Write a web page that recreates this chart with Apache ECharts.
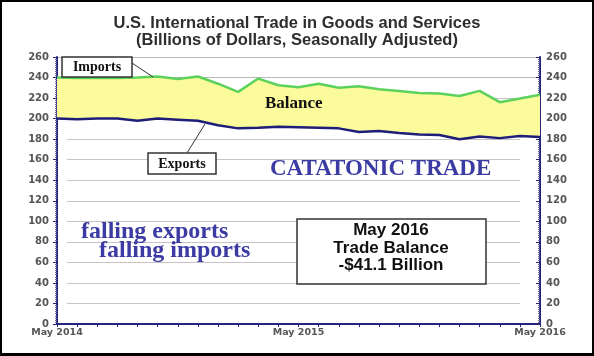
<!DOCTYPE html>
<html>
<head>
<meta charset="utf-8">
<script src="https://cdn.jsdelivr.net/npm/echarts@6/dist/echarts.min.js"></script>
<style>
html,body{margin:0;padding:0;background:#fff;}
#c{width:594px;height:356px;}
</style>
</head>
<body>
<div id="c"></div>
<script>
const months = ['May 2014','Jun 2014','Jul 2014','Aug 2014','Sep 2014','Oct 2014','Nov 2014','Dec 2014',
  'Jan 2015','Feb 2015','Mar 2015','Apr 2015','May 2015','Jun 2015','Jul 2015','Aug 2015','Sep 2015',
  'Oct 2015','Nov 2015','Dec 2015','Jan 2016','Feb 2016','Mar 2016','Apr 2016','May 2016'];
const imports = [240,239.5,239.5,239.5,240,241,238.5,241,234,226,239,232.5,230.5,234,230,231.5,228.5,227,225,224.5,222,227,216,219.5,223.3];
const exports = [200,199.5,200,200,198,200,199,198,193.5,190.5,191,192,191.5,191,190.5,187,188,186,184.5,184,180,182.5,181,183,182.2];
const yTicks = {min:0, max:260, interval:20};

const balance = imports.map((v,i)=>+(v-exports[i]).toFixed(2));
const chart = echarts.init(document.getElementById('c'), null, {renderer:'canvas'});

const labelStyle = {color:'#555', fontFamily:'DejaVu Sans', fontWeight:'bold', fontSize:10};
const axisNavy = '#24247a';
const nLines = (yTicks.max - yTicks.min)/yTicks.interval + 1;
const topLineColors = Array.from({length:nLines},(_,i)=> i>=nLines-2 ? '#b8b8b8' : 'rgba(0,0,0,0)');
const innerLineColors = Array.from({length:nLines},(_,i)=> (i===0 || i>=nLines-2) ? 'rgba(0,0,0,0)' : '#c4c4c4');

const option = {
  animation:false,
  backgroundColor:'#fff',
  title:{
    text:'U.S. International Trade in Goods and Services\n(Billions of Dollars, Seasonally Adjusted)',
    left:'center', top:10,
    textStyle:{fontFamily:'Liberation Sans', fontWeight:'bold', fontSize:16.5, color:'#2e2e2e', lineHeight:17}
  },
  grid:[
    {left:57, right:54, top:57, bottom:32},
    {left:67, right:74, top:57, bottom:32}
  ],
  xAxis:[
    {type:'category', gridIndex:0, data:months, boundaryGap:false,
     axisLine:{show:true, lineStyle:{color:axisNavy, width:2}},
     axisTick:{show:true, interval:0, length:3, lineStyle:{color:axisNavy, width:1}},
     axisLabel:Object.assign({interval:11, margin:4}, labelStyle, {fontSize:9.5}),
     splitLine:{show:false}},
    {type:'category', gridIndex:1, data:months, boundaryGap:false, show:false}
  ],
  yAxis:[
    {type:'value', gridIndex:0, position:'left', min:yTicks.min, max:yTicks.max, interval:yTicks.interval,
     axisLine:{show:true, lineStyle:{color:axisNavy, width:2}},
     axisTick:{show:true, length:4, lineStyle:{color:axisNavy}},
     minorTick:{show:true, splitNumber:10, length:2, lineStyle:{color:'#6a6aa0'}},
     axisLabel:Object.assign({margin:8}, labelStyle),
     splitLine:{show:true, lineStyle:{color:topLineColors, width:1}}},
    {type:'value', gridIndex:0, position:'right', min:yTicks.min, max:yTicks.max, interval:yTicks.interval,
     axisLine:{show:true, lineStyle:{color:axisNavy, width:2}},
     axisTick:{show:true, length:4, inside:true, lineStyle:{color:axisNavy}},
     minorTick:{show:true, splitNumber:10, length:2, lineStyle:{color:'#6a6aa0'}},
     axisLabel:Object.assign({margin:6}, labelStyle),
     splitLine:{show:false}},
    {type:'value', gridIndex:1, min:yTicks.min, max:yTicks.max, interval:yTicks.interval,
     axisLine:{show:false}, axisTick:{show:false}, axisLabel:{show:false},
     splitLine:{show:true, lineStyle:{color:innerLineColors, width:1}}}
  ],
  series:[
    {name:'base', type:'line', xAxisIndex:0, yAxisIndex:0, stack:'trade', data:exports,
     symbol:'none', lineStyle:{width:0, opacity:0}, silent:true, z:1},
    {name:'Balance', type:'line', xAxisIndex:0, yAxisIndex:0, stack:'trade', data:balance,
     symbol:'none', lineStyle:{width:0, opacity:0}, areaStyle:{color:'#fbfb9c', opacity:1}, silent:true, z:1},
    {name:'Imports', type:'line', xAxisIndex:0, yAxisIndex:0, data:imports, symbol:'none',
     lineStyle:{color:'#5cd25c', width:2.5}, z:3},
    {name:'Exports', type:'line', xAxisIndex:0, yAxisIndex:0, data:exports, symbol:'none',
     lineStyle:{color:'#1e1e78', width:2.5}, z:3}
  ],
  graphic:[
    {type:'rect', shape:{x:1, y:1, width:592, height:353}, style:{fill:'none', stroke:'#000', lineWidth:2}, z:100},
    {type:'line', shape:{x1:0, y1:355, x2:594, y2:355}, style:{stroke:'#000', lineWidth:2}, z:100},
    // Imports callout
    {type:'line', shape:{x1:132, y1:63, x2:153, y2:77}, style:{stroke:'#333', lineWidth:1}, z:50},
    {type:'rect', shape:{x:62, y:57, width:70, height:20}, style:{fill:'#fff', stroke:'#333', lineWidth:1.5}, z:50},
    {type:'text', x:97, y:67.5, style:{text:'Imports', font:'bold 14px "Liberation Serif"', fill:'#111', textAlign:'center', textVerticalAlign:'middle'}, z:51},
    // Exports callout
    {type:'line', shape:{x1:187, y1:153, x2:205, y2:124}, style:{stroke:'#333', lineWidth:1}, z:50},
    {type:'rect', shape:{x:148, y:153, width:68, height:21}, style:{fill:'#fff', stroke:'#333', lineWidth:1.5}, z:50},
    {type:'text', x:182, y:164, style:{text:'Exports', font:'bold 14px "Liberation Serif"', fill:'#111', textAlign:'center', textVerticalAlign:'middle'}, z:51},
    // Balance label
    {type:'text', x:265, y:104, style:{text:'Balance', font:'bold 17px "Liberation Serif"', fill:'#111', textAlign:'left', textVerticalAlign:'middle'}, z:51},
    // Catatonic
    {type:'text', x:270, y:169, style:{text:'CATATONIC TRADE', font:'bold 23px "Liberation Serif"', fill:'#3b3ba3', textAlign:'left', textVerticalAlign:'middle'}, z:51},
    {type:'text', x:81, y:232, style:{text:'falling exports', font:'bold 24px "Liberation Serif"', fill:'#3b3ba3', textAlign:'left', textVerticalAlign:'middle'}, z:51},
    {type:'text', x:99, y:251, style:{text:'falling imports', font:'bold 24px "Liberation Serif"', fill:'#3b3ba3', textAlign:'left', textVerticalAlign:'middle'}, z:51},
    // Trade balance box
    {type:'rect', shape:{x:297, y:219, width:189, height:65}, style:{fill:'#fff', stroke:'#333', lineWidth:1.5}, z:50},
    {type:'text', x:391, y:230.5, style:{text:'May 2016', font:'bold 17px "Liberation Sans"', fill:'#111', textAlign:'center', textVerticalAlign:'middle'}, z:51},
    {type:'text', x:391, y:248, style:{text:'Trade Balance', font:'bold 17px "Liberation Sans"', fill:'#111', textAlign:'center', textVerticalAlign:'middle'}, z:51},
    {type:'text', x:391, y:265.5, style:{text:'-$41.1 Billion', font:'bold 17px "Liberation Sans"', fill:'#111', textAlign:'center', textVerticalAlign:'middle'}, z:51}
  ]
};
chart.setOption(option);
</script>
</body>
</html>
